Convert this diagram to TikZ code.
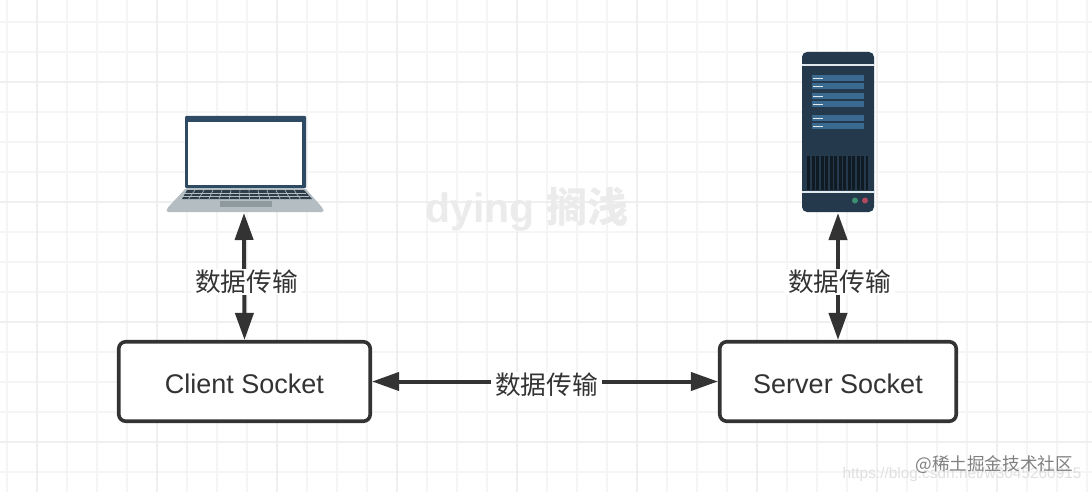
\documentclass[tikz,border=0pt]{standalone}
\usepackage{fontspec}
\setmainfont{Liberation Sans}
\newfontfamily\cjk{Noto Sans CJK SC}
\usetikzlibrary{arrows.meta}
\definecolor{gridminor}{HTML}{F5F5F5}
\definecolor{gridmajor}{HTML}{EFEFEF}
\definecolor{ink}{HTML}{333333}
\definecolor{lidblue}{HTML}{2F4A63}
\definecolor{deckgrey}{HTML}{B4BEC2}
\definecolor{keydark}{HTML}{2F3E4A}
\definecolor{padgrey}{HTML}{8F9A9C}
\definecolor{rackblue}{HTML}{24394B}
\definecolor{slotblue}{HTML}{3B6A90}
\definecolor{ledgreen}{HTML}{3E8E72}
\definecolor{ledred}{HTML}{B0485E}
\tikzset{
  sockbox/.style={draw=ink,line width=3.6pt,rounded corners=7pt,fill=white,minimum height=79.5pt,text height=23pt,text depth=0pt,font=\fontsize{27}{27}\selectfont,text=ink},
  flowlabel/.style={fill=white,inner xsep=4pt,inner ysep=1pt,font=\cjk\fontsize{25.7}{25.7}\selectfont,text=ink},
  flowline/.style={draw=ink,line width=4pt,{Triangle[width=18pt,length=27pt]}-{Triangle[width=18pt,length=27pt]}},
}
\begin{document}
\begin{tikzpicture}[x=1pt,y=-1pt]
\useasboundingbox (0,0) rectangle (1092,492);
\fill[white] (0,0) rectangle (1092,492);
% background grid
\foreach \gx in {7,37,...,1087}
  \draw[gridminor,line width=2pt] (\gx,0) -- (\gx,492);
\foreach \gy in {22,52,...,472}
  \draw[gridminor,line width=2pt] (0,\gy) -- (1092,\gy);
\foreach \gx in {37,157,...,1087}
  \draw[gridmajor,line width=2.5pt] (\gx,0) -- (\gx,492);
\foreach \gy in {82,202,...,472}
  \draw[gridmajor,line width=2.5pt] (0,\gy) -- (1092,\gy);
% laptop
\fill[lidblue,rounded corners=1pt] (185,116) rectangle (306,188);
\fill[white] (188,122) rectangle (302,185);
\fill[deckgrey,rounded corners=2pt] (186,188) -- (305,188) -- (323.5,209) -- (323.5,212) -- (166.5,212) -- (166.5,209) -- cycle;
\fill[keydark] (187,190) -- (304,190) -- (312,199) -- (182,199) -- cycle;
\foreach \kx in {195,204,...,296}
  \draw[deckgrey,line width=.6pt] (\kx,190) -- ({\kx+(\kx-245)*.13},199);
\draw[deckgrey,line width=.7pt] (185,193) -- (306,193);
\draw[deckgrey,line width=.7pt] (183,196) -- (309,196);
\fill[padgrey] (220,201) rectangle (272,207);
% server
\fill[rackblue,rounded corners=5pt] (802,52) rectangle (874,212);
\draw[white!85!slotblue,line width=1.3pt] (802,65) -- (874,65);
\draw[white!85!slotblue,line width=1.3pt] (802,192) -- (874,192);
\foreach \sy in {75,83,93,101,115,123} {
  \fill[slotblue] (812,\sy) rectangle (864,{\sy+6.5});
  \draw[white!85!slotblue,line width=1.3pt] (813,{\sy+3.2}) -- (823,{\sy+3.2});
}
\fill[black!55!rackblue] (807,156) rectangle (868,190);
\foreach \vx in {811,815.5,...,866}
  \draw[rackblue,line width=1.3pt] (\vx,156) -- (\vx,190);
\fill[ledgreen] (855,200.5) circle (3pt);
\fill[ledred] (865,200.5) circle (3pt);
% boxes
\node[sockbox,minimum width=251.5pt] (client) at (244.5,381.5) {Client Socket};
\node[sockbox,minimum width=236.5pt] (server) at (838,381.5) {Server Socket};
\coordinate (laptop) at (244,213);
\coordinate (rack) at (838,213);
% links
\draw[flowline] (laptop) -- (client.north);
\draw[flowline] (rack) -- (server.north);
\draw[flowline] (client.east) -- (server.west);
\node[flowlabel] (lbla) at (246.5,282) {数据传输};
\node[flowlabel] (lblb) at (839.5,282) {数据传输};
\node[flowlabel] (lblc) at (546.5,385) {数据传输};
% watermarks
\node[text=black!8,font=\bfseries\fontsize{41}{41}\selectfont] (mark) at (527,209) {dying {\cjk 搁浅}};
\node[text=black!12,font=\fontsize{15.4}{15.4}\selectfont,anchor=east] (csdn) at (1085,475) {https://blog.csdn.net/w3045260915};
\node[text=black!50,font=\cjk\fontsize{17.6}{17.6}\selectfont,anchor=east,inner xsep=0pt] (juejin) at (1073,465) {@稀土掘金技术社区};
\end{tikzpicture}
\end{document}
